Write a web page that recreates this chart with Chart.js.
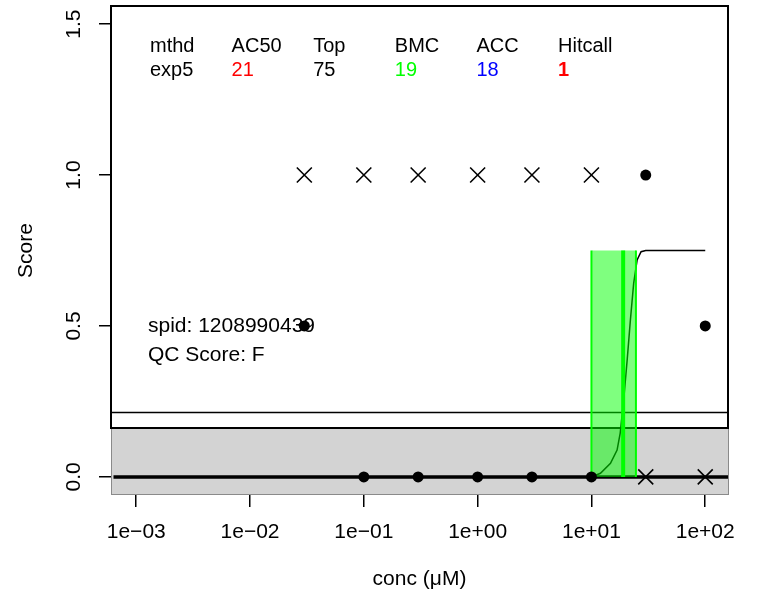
<!DOCTYPE html>
<html>
<head>
<meta charset="utf-8">
<script src="https://cdn.jsdelivr.net/npm/chart.js@4/dist/chart.umd.min.js"></script>
<style>
    html, body { margin: 0; padding: 0; background: #fff; }
    #wrap { width: 757px; height: 597px; }
</style>
</head>
<body>
<div id="wrap"><canvas id="doseChart" width="757" height="597"></canvas></div>
<script>
// measured points (conc in uM)
var concPts = [0.03, 0.1, 0.3, 1, 3, 10, 30, 100];
var respDots = [0.5, 0, 0, 0, 0, 0, 1, 0.5];
var respCross = [1, 1, 1, 1, 1, 1, 0, 0];

// exp5 fit curve
var curveConc = [0.03, 10, 12, 14.7, 16.8, 17.9, 19.2, 20.6, 22, 23.5, 25.2, 27.3, 30, 100];
var curveResp = [0, 0, 0.012, 0.045, 0.089, 0.145, 0.255, 0.387, 0.52, 0.641, 0.719, 0.746, 0.75, 0.75];

var bmc = 19, bmcLow = 10, bmcUp = 24.6, fitTop = 0.75;
var bandTop = 0.161;
var cutLine = 0.216;

var xTicks = [0.001, 0.01, 0.1, 1, 10, 100];
var xTickLabels = ['1e\u221203', '1e\u221202', '1e\u221201', '1e+00', '1e+01', '1e+02'];
var yTicks = [0, 0.5, 1, 1.5];
var yTickLabels = ['0.0', '0.5', '1.0', '1.5'];

var statNames = ['mthd', 'AC50', 'Top', 'BMC', 'ACC', 'Hitcall'];
var statValues = ['exp5', '21', '75', '19', '18', '1'];
var statColors = ['#000000', '#ff0000', '#000000', '#00ff00', '#0000ff', '#ff0000'];
var infoLines = ['spid: 1208990439', 'QC Score: F'];

var xMin = 0.000631, xMax = 158.5;
var yMin = -0.06, yMax = 1.56;

var FONT = "'Liberation Sans', Arial, sans-serif";
Chart.defaults.font.family = FONT;
Chart.defaults.color = '#000';

function pts(xs, ys) {
    return xs.map(function (x, i) { return { x: x, y: ys[i] }; });
}

// no overhang padding, R style fixed margins
function noPad(s) {
    s.paddingTop = 0;
    s.paddingBottom = 0;
    s.paddingLeft = 0;
    s.paddingRight = 0;
}

var backdrop = {
    id: 'backdrop',
    beforeDatasetsDraw: function (chart) {
        var ctx = chart.ctx, a = chart.chartArea, ys = chart.scales.y;
        var yb = Math.round(ys.getPixelForValue(bandTop));
        var yc = Math.round(ys.getPixelForValue(cutLine)) + 0.5;
        ctx.save();
        ctx.fillStyle = '#d3d3d3';
        ctx.fillRect(a.left, yb, a.right - a.left + 1, a.bottom - yb);
        ctx.strokeStyle = '#8a8a8a';
        ctx.lineWidth = 1;
        ctx.strokeRect(a.left + 0.5, yb, a.right - a.left, a.bottom - yb - 0.5);

        ctx.strokeStyle = '#000';
        ctx.lineWidth = 2;
        ctx.strokeRect(a.left, a.top, a.right - a.left, yb - a.top);

        ctx.lineWidth = 1.5;
        ctx.beginPath();
        ctx.moveTo(a.left, yc);
        ctx.lineTo(a.right, yc);
        ctx.stroke();

        ctx.textAlign = 'left';
        ctx.textBaseline = 'alphabetic';
        for (var i = 0; i < statNames.length; i++) {
            var tx = a.left + 39 + i * 81.6;
            ctx.font = '20px ' + FONT;
            ctx.fillStyle = '#000';
            ctx.fillText(statNames[i], tx, a.top + 46);
            ctx.fillStyle = statColors[i];
            ctx.font = (i == 5 ? 'bold ' : '') + '20px ' + FONT;
            ctx.fillText(statValues[i], tx, a.top + 69.5);
        }

        ctx.fillStyle = '#000';
        ctx.font = '21px ' + FONT;
        ctx.fillText(infoLines[0], a.left + 37, a.top + 326);
        ctx.fillText(infoLines[1], a.left + 37, a.top + 355);
        ctx.restore();
    }
};

var chart = new Chart(document.getElementById('doseChart'), {
    type: 'scatter',
    data: {
        datasets: [{
            label: 'resp',
            data: pts(concPts, respDots),
            pointStyle: 'circle',
            pointRadius: 5.5,
            backgroundColor: '#000',
            borderColor: '#000',
            borderWidth: 0,
            order: 0
        }, {
            label: 'flag',
            data: pts(concPts, respCross),
            pointStyle: 'crossRot',
            pointRadius: 10.6,
            borderColor: '#000',
            borderWidth: 1.6,
            order: 1
        }, {
            label: 'bmc',
            data: [{ x: bmc, y: 0 }, { x: bmc, y: fitTop }],
            showLine: true,
            borderColor: '#00ff00',
            borderWidth: 4,
            pointRadius: 0,
            order: 2
        }, {
            label: 'bmcl',
            data: [{ x: bmcLow, y: 0 }, { x: bmcLow, y: fitTop }],
            showLine: true,
            borderColor: '#00ff00',
            borderWidth: 2,
            pointRadius: 0,
            order: 3
        }, {
            label: 'bmcu',
            data: [{ x: bmcUp, y: 0 }, { x: bmcUp, y: fitTop }],
            showLine: true,
            borderColor: '#00ff00',
            borderWidth: 2,
            pointRadius: 0,
            order: 4
        }, {
            label: 'band',
            data: [{ x: bmcLow, y: fitTop }, { x: bmcUp, y: fitTop }],
            showLine: true,
            fill: 'origin',
            backgroundColor: 'rgba(0,255,0,0.5)',
            borderWidth: 0,
            borderColor: 'rgba(0,0,0,0)',
            pointRadius: 0,
            order: 5
        }, {
            label: 'fit',
            data: pts(curveConc, curveResp),
            showLine: true,
            borderColor: '#000',
            borderWidth: 1.5,
            pointRadius: 0,
            tension: 0,
            order: 6
        }, {
            label: 'zero',
            data: [{ x: xMin, y: 0 }, { x: xMax, y: 0 }],
            showLine: true,
            borderColor: '#000',
            borderWidth: 3.5,
            pointRadius: 0,
            clip: 4,
            order: 7
        }]
    },
    options: {
        responsive: false,
        animation: false,
        devicePixelRatio: 1,
        layout: { autoPadding: false, padding: { top: 6, right: 29, left: 0, bottom: 0 } },
        plugins: {
            legend: { display: false },
            tooltip: { enabled: false }
        },
        scales: {
            x: {
                type: 'logarithmic',
                min: xMin,
                max: xMax,
                afterBuildTicks: function (s) {
                    s.ticks = xTicks.map(function (v) { return { value: v }; });
                },
                afterFit: function (s) { s.height = 102; noPad(s); },
                ticks: {
                    autoSkip: false,
                    maxRotation: 0,
                    minRotation: 0,
                    padding: 13,
                    font: { size: 21 },
                    color: '#000',
                    callback: function (v, i) { return xTickLabels[i]; }
                },
                grid: {
                    drawOnChartArea: false,
                    tickLength: 12,
                    tickColor: '#000',
                    tickWidth: 1.5,
                    lineWidth: 1.5
                },
                border: { display: false },
                title: {
                    display: true,
                    text: 'conc (\u03bcM)',
                    font: { size: 21 },
                    color: '#000',
                    padding: { top: 0, bottom: 5 }
                }
            },
            y: {
                min: yMin,
                max: yMax,
                afterBuildTicks: function (s) {
                    s.ticks = yTicks.map(function (v) { return { value: v }; });
                },
                afterFit: function (s) { s.width = 111; noPad(s); },
                ticks: {
                    minRotation: 90,
                    maxRotation: 90,
                    crossAlign: 'center',
                    padding: 10,
                    font: { size: 21 },
                    color: '#000',
                    callback: function (v, i) { return yTickLabels[i]; }
                },
                grid: {
                    drawOnChartArea: false,
                    tickLength: 12,
                    tickColor: '#000',
                    tickWidth: 1.5,
                    lineWidth: 1.5
                },
                border: { display: false },
                title: {
                    display: true,
                    text: 'Score',
                    font: { size: 21 },
                    color: '#000',
                    padding: { top: 14, bottom: 0 }
                }
            }
        }
    },
    plugins: [backdrop]
});
</script>
</body>
</html>
